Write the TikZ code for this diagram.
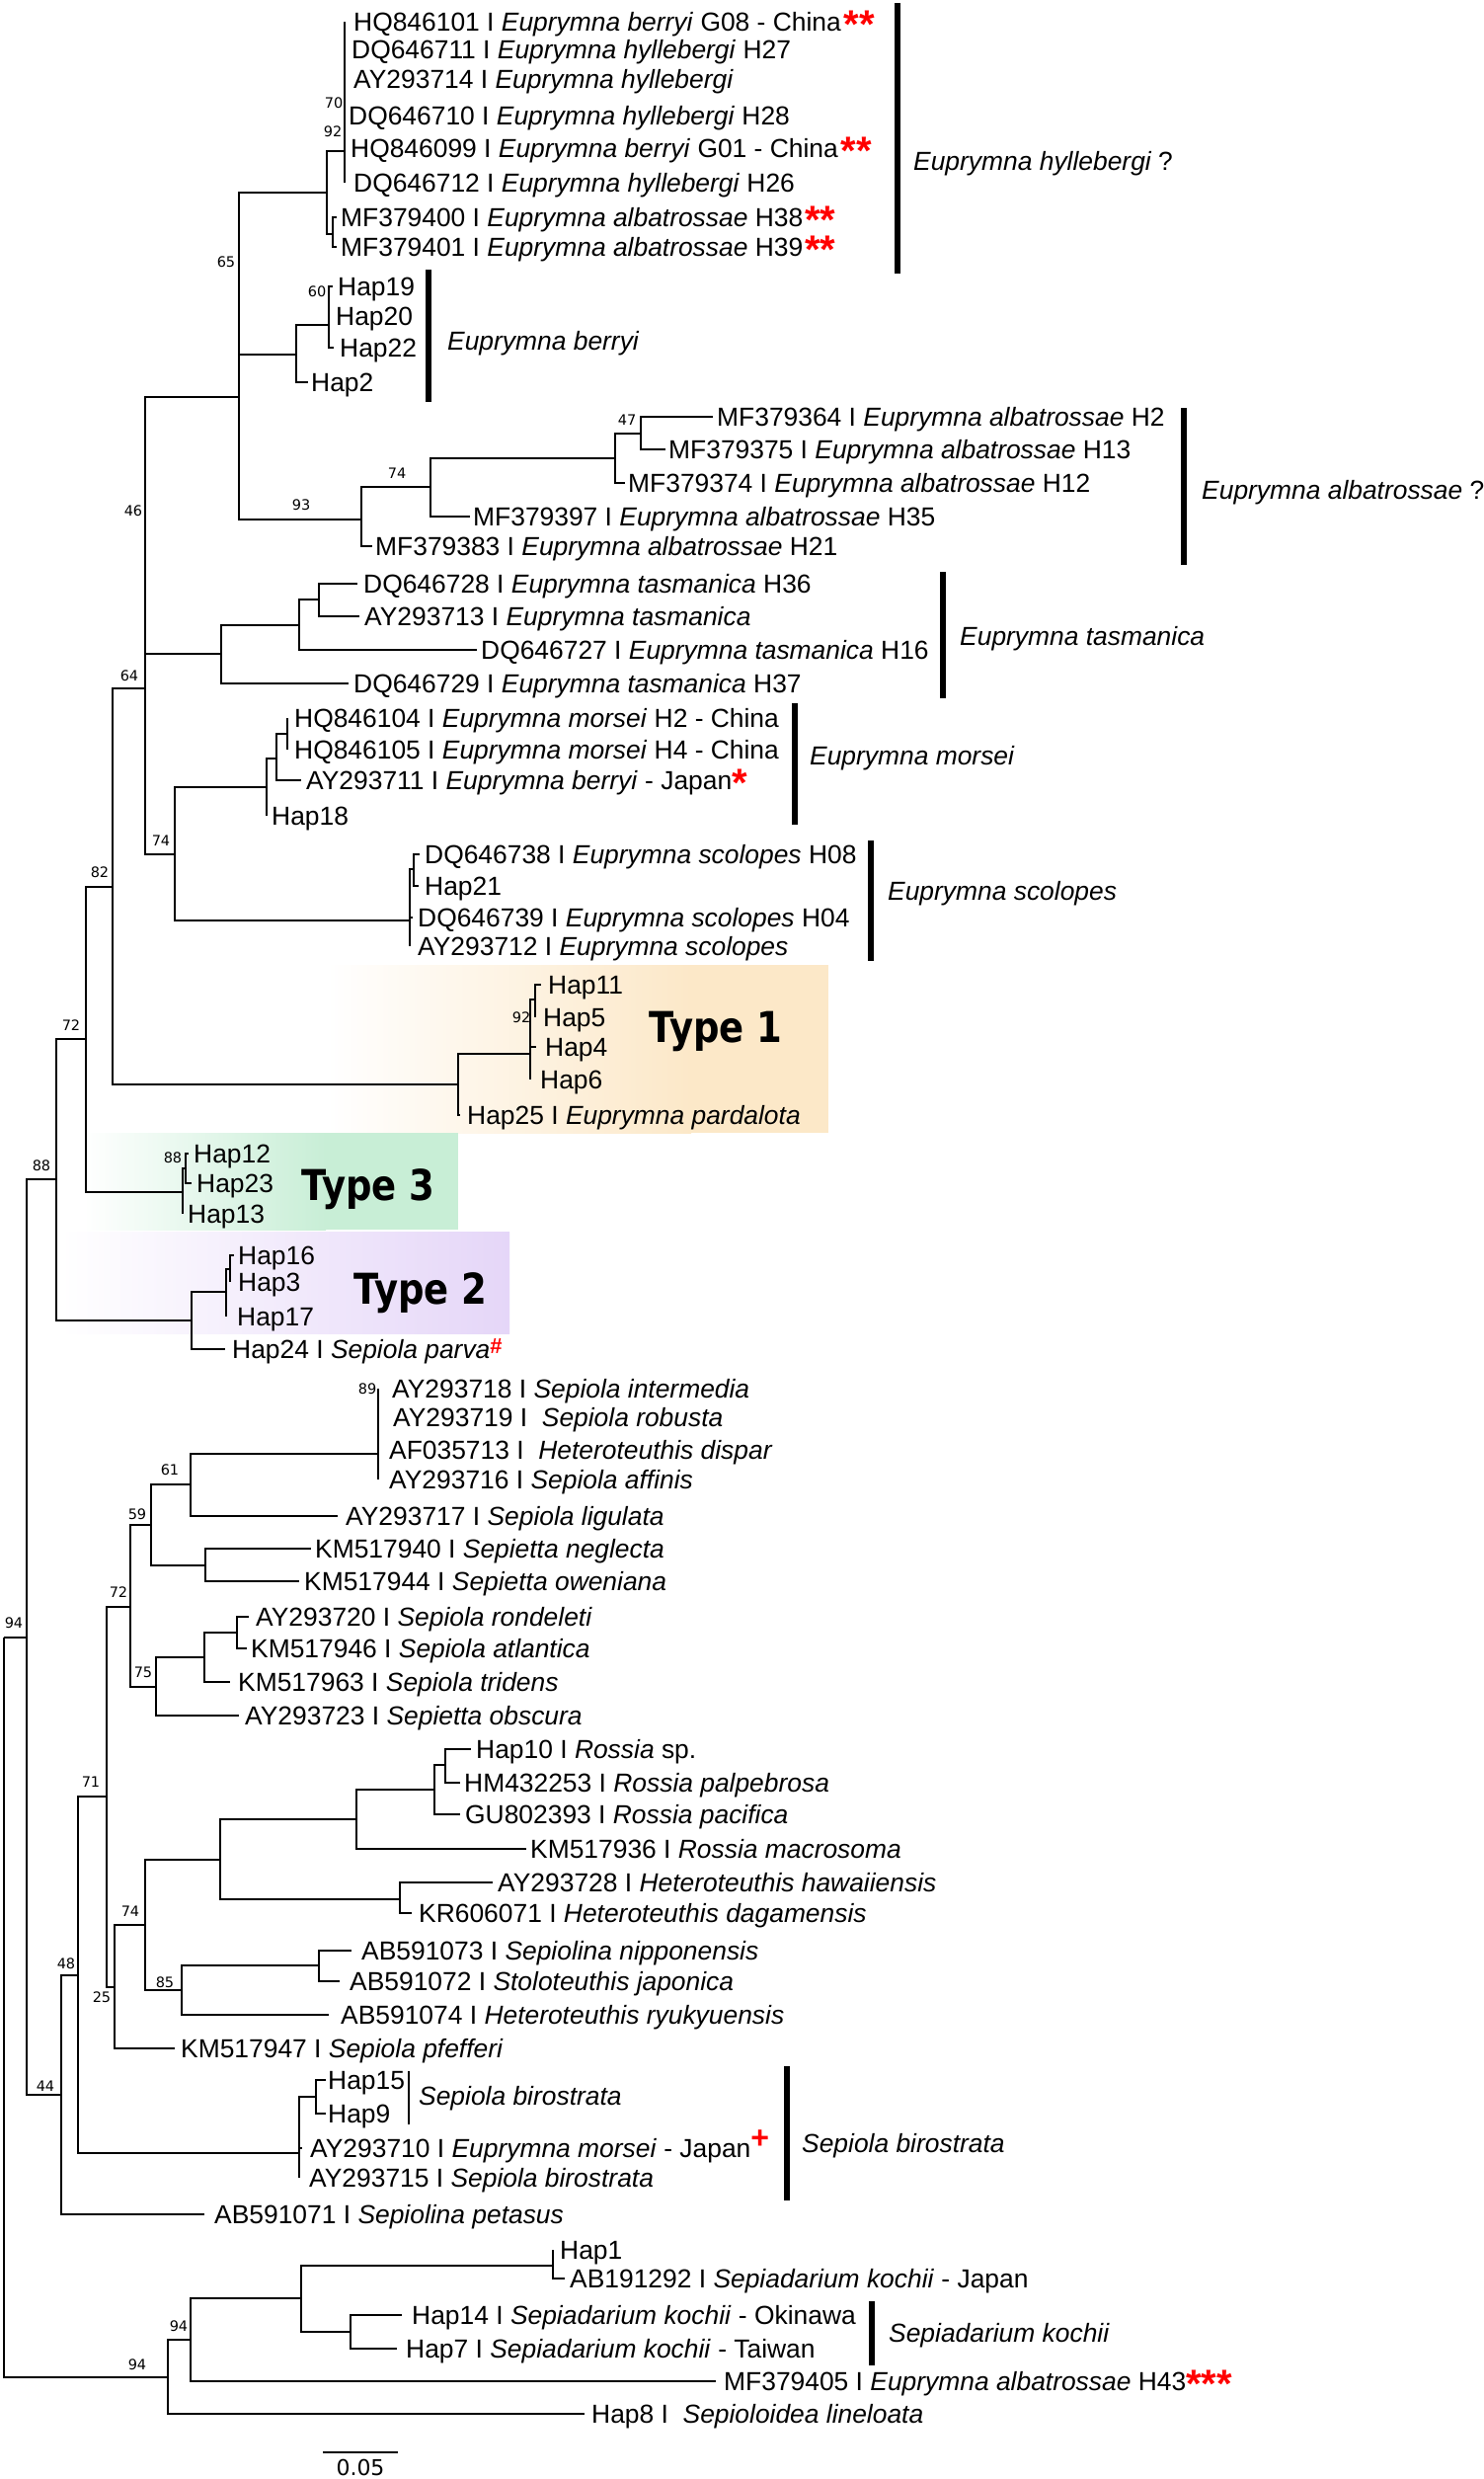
\documentclass[tikz,border=0pt]{standalone}
\usepackage{fontspec}
\usepackage{graphicx}
\setmainfont{Liberation Sans}
\newfontfamily\bsfont{DejaVu Sans}
\newcommand{\tipfont}{\fontsize{26.4}{28}\selectfont}
\newcommand{\rmark}[1]{\textcolor{red}{\smash{\raisebox{-7pt}{\fontsize{40}{40}\selectfont\bfseries #1}}}}
\newcommand{\rplus}{\textcolor{red}{\smash{\raisebox{9pt}{\fontsize{32}{32}\selectfont\bfseries +}}}}
\newcommand{\rhash}{\textcolor{red}{\smash{\raisebox{5pt}{\fontsize{22}{22}\selectfont\bfseries\#}}}}
\definecolor{typeone}{RGB}{252,232,200}
\definecolor{typethree}{RGB}{200,238,214}
\definecolor{typetwo}{RGB}{229,214,248}
\tikzset{
  br/.style={line width=1.4pt},
  bar/.style={line width=6.5pt},
  thinbar/.style={line width=2.2pt},
  tiplab/.style={anchor=base west, inner sep=0pt, font=\tipfont},
  barlab/.style={anchor=base west, inner sep=0pt, font=\tipfont\itshape},
  bs/.style={inner sep=0pt, font=\bsfont\fontsize{14.5}{15}\selectfont},
  typelab/.style={anchor=base west, inner sep=0pt, font=\bsfont\bfseries\fontsize{43}{44}\selectfont}
}
\newcommand{\tp}[5]{\coordinate (#1) at (#2,#3); \node[tiplab] (#1l) at (#4,#3+9.3) {#5};}
\newcommand{\bsl}[4]{\node[bs] (#1) at (#2,#3) {#4};}
\begin{document}
\begin{tikzpicture}[x=1pt,y=-1pt]
\useasboundingbox (0,0) rectangle (1502,2510);
\fill[white] (0,0) rectangle (1502,2510);
% type boxes
\shade[left color=white, right color=typeone] (331,977) rectangle (700,1147);
\fill[typeone] (699,977) rectangle (839,1147);
\shade[left color=white, right color=typethree] (85,1147) rectangle (330,1245);
\fill[typethree] (329,1147) rectangle (464,1245);
\shade[left color=white, right color=typetwo] (61,1247) rectangle (516,1350);
% internal nodes
\coordinate (R) at (4,1658);
\coordinate (A) at (27,1658);
\coordinate (B88) at (57,1194);
\coordinate (C72) at (87,1052);
\coordinate (D82) at (114,898);
\coordinate (E64) at (147,697);
\coordinate (F46) at (147,532);
\coordinate (G) at (242,402);
\coordinate (H) at (331,195);
\coordinate (H70) at (349,153);
\coordinate (Hm) at (337,237);
\coordinate (Ber) at (300,359);
\coordinate (Ber60) at (333,329);
\coordinate (Alb93) at (366,526);
\coordinate (Alb74) at (436,493);
\coordinate (Alb2) at (623,464);
\coordinate (Alb47) at (649,439);
\coordinate (Tas) at (224,662);
\coordinate (Tas2) at (303,633);
\coordinate (Tas3) at (323,607);
\coordinate (F74) at (177,865);
\coordinate (Mor) at (270,797);
\coordinate (Mor2) at (280,768);
\coordinate (Mor3) at (291,743);
\coordinate (Sco) at (415,932);
\coordinate (Sco2) at (419,880);
\coordinate (T1) at (464,1098);
\coordinate (T1a) at (537,1067);
\coordinate (T1b) at (542,1012);
\coordinate (T3) at (185,1207);
\coordinate (T3a) at (188,1183);
\coordinate (T2) at (194,1337);
\coordinate (T2a) at (229,1308);
\coordinate (T2b) at (233,1285);
\coordinate (N44) at (62,2121);
\coordinate (N48) at (79,2000);
\coordinate (N71) at (108,1819);
\coordinate (N72) at (132,1627);
\coordinate (N59) at (153,1544);
\coordinate (N61) at (193,1503);
\coordinate (N89) at (383,1472);
\coordinate (Nep) at (208,1585);
\coordinate (N75) at (158,1708);
\coordinate (N75a) at (207,1678);
\coordinate (N75b) at (240,1653);
\coordinate (N25) at (116,2012);
\coordinate (N74) at (147,1949);
\coordinate (Ros) at (223,1883);
\coordinate (Ros2) at (361,1842);
\coordinate (Ros3) at (440,1812);
\coordinate (Ros4) at (451,1787);
\coordinate (Het) at (405,1923);
\coordinate (N85) at (184,2015);
\coordinate (N85a) at (323,1990);
\coordinate (Bir) at (303,2180);
\coordinate (Bir3) at (320,2123);
\coordinate (S94b) at (170,2407);
\coordinate (S94) at (193,2369);
\coordinate (Sk) at (305,2327);
\coordinate (Sk1) at (560,2294);
\coordinate (Sk2) at (355,2361);
% tips
\tp{t1}{349}{22}{358}{HQ846101 I \textit{Euprymna berryi} G08 - China\hspace{3pt}\rmark{**}}
\tp{t2}{349}{50}{356}{DQ646711 I \textit{Euprymna hyllebergi} H27}
\tp{t3}{349}{80}{358}{AY293714 I \textit{Euprymna hyllebergi}}
\tp{t4}{349}{117}{353}{DQ646710 I \textit{Euprymna hyllebergi} H28}
\tp{t5}{349}{150}{355}{HQ846099 I \textit{Euprymna berryi} G01 - China\hspace{3pt}\rmark{**}}
\tp{t6}{349}{185}{358}{DQ646712 I \textit{Euprymna hyllebergi} H26}
\tp{t7}{341}{220}{345}{MF379400 I \textit{Euprymna albatrossae} H38\hspace{2pt}\rmark{**}}
\tp{t8}{341}{250}{345}{MF379401 I \textit{Euprymna albatrossae} H39\hspace{2pt}\rmark{**}}
\tp{t9}{337}{290}{342}{Hap19}
\tp{t10}{333}{320}{340}{Hap20}
\tp{t11}{338}{352}{344}{Hap22}
\tp{t12}{312}{387}{315}{Hap2}
\tp{t13}{722}{422}{726}{MF379364 I \textit{Euprymna albatrossae} H2}
\tp{t14}{674}{455}{677}{MF379375 I \textit{Euprymna albatrossae} H13}
\tp{t15}{633}{489}{636}{MF379374 I \textit{Euprymna albatrossae} H12}
\tp{t16}{476}{523}{479}{MF379397 I \textit{Euprymna albatrossae} H35}
\tp{t17}{377}{553}{380}{MF379383 I \textit{Euprymna albatrossae} H21}
\tp{t18}{362}{591}{368}{DQ646728 I \textit{Euprymna tasmanica} H36}
\tp{t19}{364}{624}{369}{AY293713 I \textit{Euprymna tasmanica}}
\tp{t20}{483}{658}{487}{DQ646727 I \textit{Euprymna tasmanica} H16}
\tp{t21}{353}{692}{358}{DQ646729 I \textit{Euprymna tasmanica} H37}
\tp{t22}{291}{727}{298}{HQ846104 I \textit{Euprymna morsei} H2 - China}
\tp{t23}{291}{759}{298}{HQ846105 I \textit{Euprymna morsei} H4 - China}
\tp{t24}{305}{790}{310}{AY293711 I \textit{Euprymna berryi} - Japan\rmark{*}}
\tp{t25}{270}{826}{275}{Hap18}
\tp{t26}{425}{865}{430}{DQ646738 I \textit{Euprymna scolopes} H08}
\tp{t27}{424}{897}{430}{Hap21}
\tp{t28}{418}{929}{423}{DQ646739 I \textit{Euprymna scolopes} H04}
\tp{t29}{415}{958}{423}{AY293712 I \textit{Euprymna scolopes}}
\tp{t30}{548}{997}{555}{Hap11}
\tp{t31}{542}{1030}{550}{Hap5}
\tp{t32}{543}{1060}{552}{Hap4}
\tp{t33}{537}{1093}{547}{Hap6}
\tp{t34}{466}{1129}{473}{Hap25 I \textit{Euprymna pardalota}}
\tp{t35}{191}{1168}{196}{Hap12}
\tp{t36}{194}{1198}{199}{Hap23}
\tp{t37}{185}{1229}{190}{Hap13}
\tp{t38}{237}{1271}{241}{Hap16}
\tp{t39}{233}{1298}{241}{Hap3}
\tp{t40}{229}{1333}{240}{Hap17}
\tp{t41}{228}{1366}{235}{Hap24 I \textit{Sepiola parva}\rhash}
\tp{t42}{383}{1406}{397}{AY293718 I \textit{Sepiola intermedia}}
\tp{t43}{383}{1435}{398}{AY293719 I \ \textit{Sepiola robusta}}
\tp{t44}{383}{1468}{394}{AF035713 I \ \textit{Heteroteuthis dispar}}
\tp{t45}{383}{1498}{394}{AY293716 I \textit{Sepiola affinis}}
\tp{t46}{342}{1535}{350}{AY293717 I \textit{Sepiola ligulata}}
\tp{t47}{315}{1568}{319}{KM517940 I \textit{Sepietta neglecta}}
\tp{t48}{303}{1601}{308}{KM517944 I \textit{Sepietta oweniana}}
\tp{t49}{252}{1637}{259}{AY293720 I \textit{Sepiola rondeleti}}
\tp{t50}{250}{1669}{254}{KM517946 I \textit{Sepiola atlantica}}
\tp{t51}{233}{1703}{241}{KM517963 I \textit{Sepiola tridens}}
\tp{t52}{242}{1737}{248}{AY293723 I \textit{Sepietta obscura}}
\tp{t53}{477}{1771}{482}{Hap10 I \textit{Rossia} sp.}
\tp{t54}{466}{1805}{470}{HM432253 I \textit{Rossia palpebrosa}}
\tp{t55}{466}{1837}{471}{GU802393 I \textit{Rossia pacifica}}
\tp{t56}{533}{1872}{537}{KM517936 I \textit{Rossia macrosoma}}
\tp{t57}{499}{1906}{504}{AY293728 I \textit{Heteroteuthis hawaiiensis}}
\tp{t58}{417}{1937}{424}{KR606071 I \textit{Heteroteuthis dagamensis}}
\tp{t59}{356}{1975}{366}{AB591073 I \textit{Sepiolina nipponensis}}
\tp{t60}{344}{2006}{354}{AB591072 I \textit{Stoloteuthis japonica}}
\tp{t61}{333}{2040}{345}{AB591074 I \textit{Heteroteuthis ryukyuensis}}
\tp{t62}{177}{2074}{183}{KM517947 I \textit{Sepiola pfefferi}}
\tp{t63}{330}{2106}{332}{Hap15}
\tp{t64}{330}{2140}{332}{Hap9}
\tp{t65}{306}{2175}{314}{AY293710 I \textit{Euprymna morsei} - Japan\rplus}
\tp{t66}{303}{2205}{313}{AY293715 I \textit{Sepiola birostrata}}
\tp{t67}{207}{2242}{217}{AB591071 I \textit{Sepiolina petasus}}
\tp{t68}{560}{2278}{567}{Hap1}
\tp{t69}{572}{2307}{577}{AB191292 I \textit{Sepiadarium kochii} - Japan}
\tp{t70}{407}{2344}{417}{Hap14 I \textit{Sepiadarium kochii} - Okinawa}
\tp{t71}{402}{2378}{411}{Hap7 I \textit{Sepiadarium kochii} - Taiwan}
\tp{t72}{725}{2411}{733}{MF379405 I \textit{Euprymna albatrossae} H43\rmark{***}}
\tp{t73}{592}{2444}{599}{Hap8 I \ \textit{Sepioloidea lineloata}}
% branches
\foreach \p/\c in {R/A, R/S94b, A/B88, A/N44, B88/C72, B88/T2, C72/D82, C72/T3,
  D82/E64, D82/T1, E64/F46, E64/F74, F46/G, F46/Tas, G/H, G/Ber, G/Alb93,
  H/H70, H/Hm, H70/t1, H70/t2, H70/t3, H70/t4, H70/t5, H70/t6, Hm/t7, Hm/t8,
  Ber/Ber60, Ber/t12, Ber60/t9, Ber60/t10, Ber60/t11,
  Alb93/Alb74, Alb93/t17, Alb74/Alb2, Alb74/t16, Alb2/Alb47, Alb2/t15, Alb47/t13, Alb47/t14,
  Tas/Tas2, Tas/t21, Tas2/Tas3, Tas2/t20, Tas3/t18, Tas3/t19,
  F74/Mor, F74/Sco, Mor/Mor2, Mor/t25, Mor2/Mor3, Mor2/t24, Mor3/t22, Mor3/t23,
  Sco/Sco2, Sco/t28, Sco/t29, Sco2/t26, Sco2/t27,
  T1/T1a, T1/t34, T1a/T1b, T1a/t32, T1a/t33, T1b/t30, T1b/t31,
  T3/T3a, T3/t37, T3a/t35, T3a/t36,
  T2/T2a, T2/t41, T2a/T2b, T2a/t40, T2b/t38, T2b/t39,
  N44/N48, N44/t67, N48/N71, N48/Bir, N71/N72, N71/N25, N72/N59, N72/N75,
  N59/N61, N59/Nep, N61/N89, N61/t46, N89/t42, N89/t43, N89/t44, N89/t45,
  Nep/t47, Nep/t48, N75/N75a, N75/t52, N75a/N75b, N75a/t51, N75b/t49, N75b/t50,
  N25/N74, N25/t62, N74/Ros, N74/N85, Ros/Ros2, Ros/Het, Ros2/Ros3, Ros2/t56,
  Ros3/Ros4, Ros3/t55, Ros4/t53, Ros4/t54, Het/t57, Het/t58,
  N85/N85a, N85/t61, N85a/t59, N85a/t60,
  Bir/Bir3, Bir/t65, Bir/t66, Bir3/t63, Bir3/t64,
  S94b/S94, S94b/t73, S94/Sk, S94/t72, Sk/Sk1, Sk/Sk2, Sk1/t68, Sk1/t69, Sk2/t70, Sk2/t71}
  \draw[br] (\p) |- (\c);
% bootstrap values
\bsl{b70}{338}{104}{70}
\bsl{b92a}{337}{133}{92}
\bsl{b65}{229}{265}{65}
\bsl{b60}{321}{295}{60}
\bsl{b47}{635}{425}{47}
\bsl{b74a}{402}{479}{74}
\bsl{b93}{305}{511}{93}
\bsl{b46}{135}{517}{46}
\bsl{b64}{131}{684}{64}
\bsl{b74b}{163}{851}{74}
\bsl{b82}{101}{883}{82}
\bsl{b72a}{72}{1038}{72}
\bsl{b92b}{528}{1030}{92}
\bsl{b88a}{175}{1172}{88}
\bsl{b88b}{42}{1180}{88}
\bsl{b89}{372}{1406}{89}
\bsl{b61}{172}{1488}{61}
\bsl{b59}{139}{1533}{59}
\bsl{b72b}{120}{1612}{72}
\bsl{b94a}{14}{1643}{94}
\bsl{b75}{145}{1693}{75}
\bsl{b71}{92}{1804}{71}
\bsl{b74c}{132}{1935}{74}
\bsl{b48}{67}{1988}{48}
\bsl{b85}{167}{2007}{85}
\bsl{b25}{103}{2022}{25}
\bsl{b44}{46}{2112}{44}
\bsl{b94b}{181}{2355}{94}
\bsl{b94c}{139}{2394}{94}
% clade bars
\draw[bar] (909,3) -- (909,277);
\node[barlab] (lhyl) at (925,163+9.3) {Euprymna hyllebergi\upshape\ ?};
\draw[bar] (434,273) -- (434,407);
\node[barlab] (lber) at (453,345+9.3) {Euprymna berryi};
\draw[bar] (1199,413) -- (1199,572);
\node[barlab] (lalb) at (1217,496+9.3) {Euprymna albatrossae\upshape\ ?};
\draw[bar] (955,579) -- (955,707);
\node[barlab] (ltas) at (972,644+9.3) {Euprymna tasmanica};
\draw[bar] (805,712) -- (805,835);
\node[barlab] (lmor) at (820,765+9.3) {Euprymna morsei};
\draw[bar] (882,851) -- (882,973);
\node[barlab] (lsco) at (899,902+9.3) {Euprymna scolopes};
\draw[thinbar] (414,2097) -- (414,2151);
\node[barlab] (lbir1) at (424,2122+9.3) {Sepiola birostrata};
\draw[bar] (797,2092) -- (797,2228);
\node[barlab] (lbir2) at (812,2170+9.3) {Sepiola birostrata};
\draw[bar] (883,2330) -- (883,2395);
\node[barlab] (lsk) at (900,2362+9.3) {Sepiadarium kochii};
% type labels
\node[typelab] (ty1) at (657,1055) {\scalebox{0.86}[1]{Type 1}};
\node[typelab] (ty3) at (305,1215) {\scalebox{0.86}[1]{Type 3}};
\node[typelab] (ty2) at (358,1320) {\scalebox{0.86}[1]{Type 2}};
% scale bar
\coordinate (sb1) at (327,2483);
\coordinate (sb2) at (403,2483);
\draw[br] (sb1) -- (sb2);
\node[inner sep=0pt, font=\bsfont\fontsize{22}{23}\selectfont] (sbl) at (365,2498) {0.05};
\end{tikzpicture}
\end{document}
